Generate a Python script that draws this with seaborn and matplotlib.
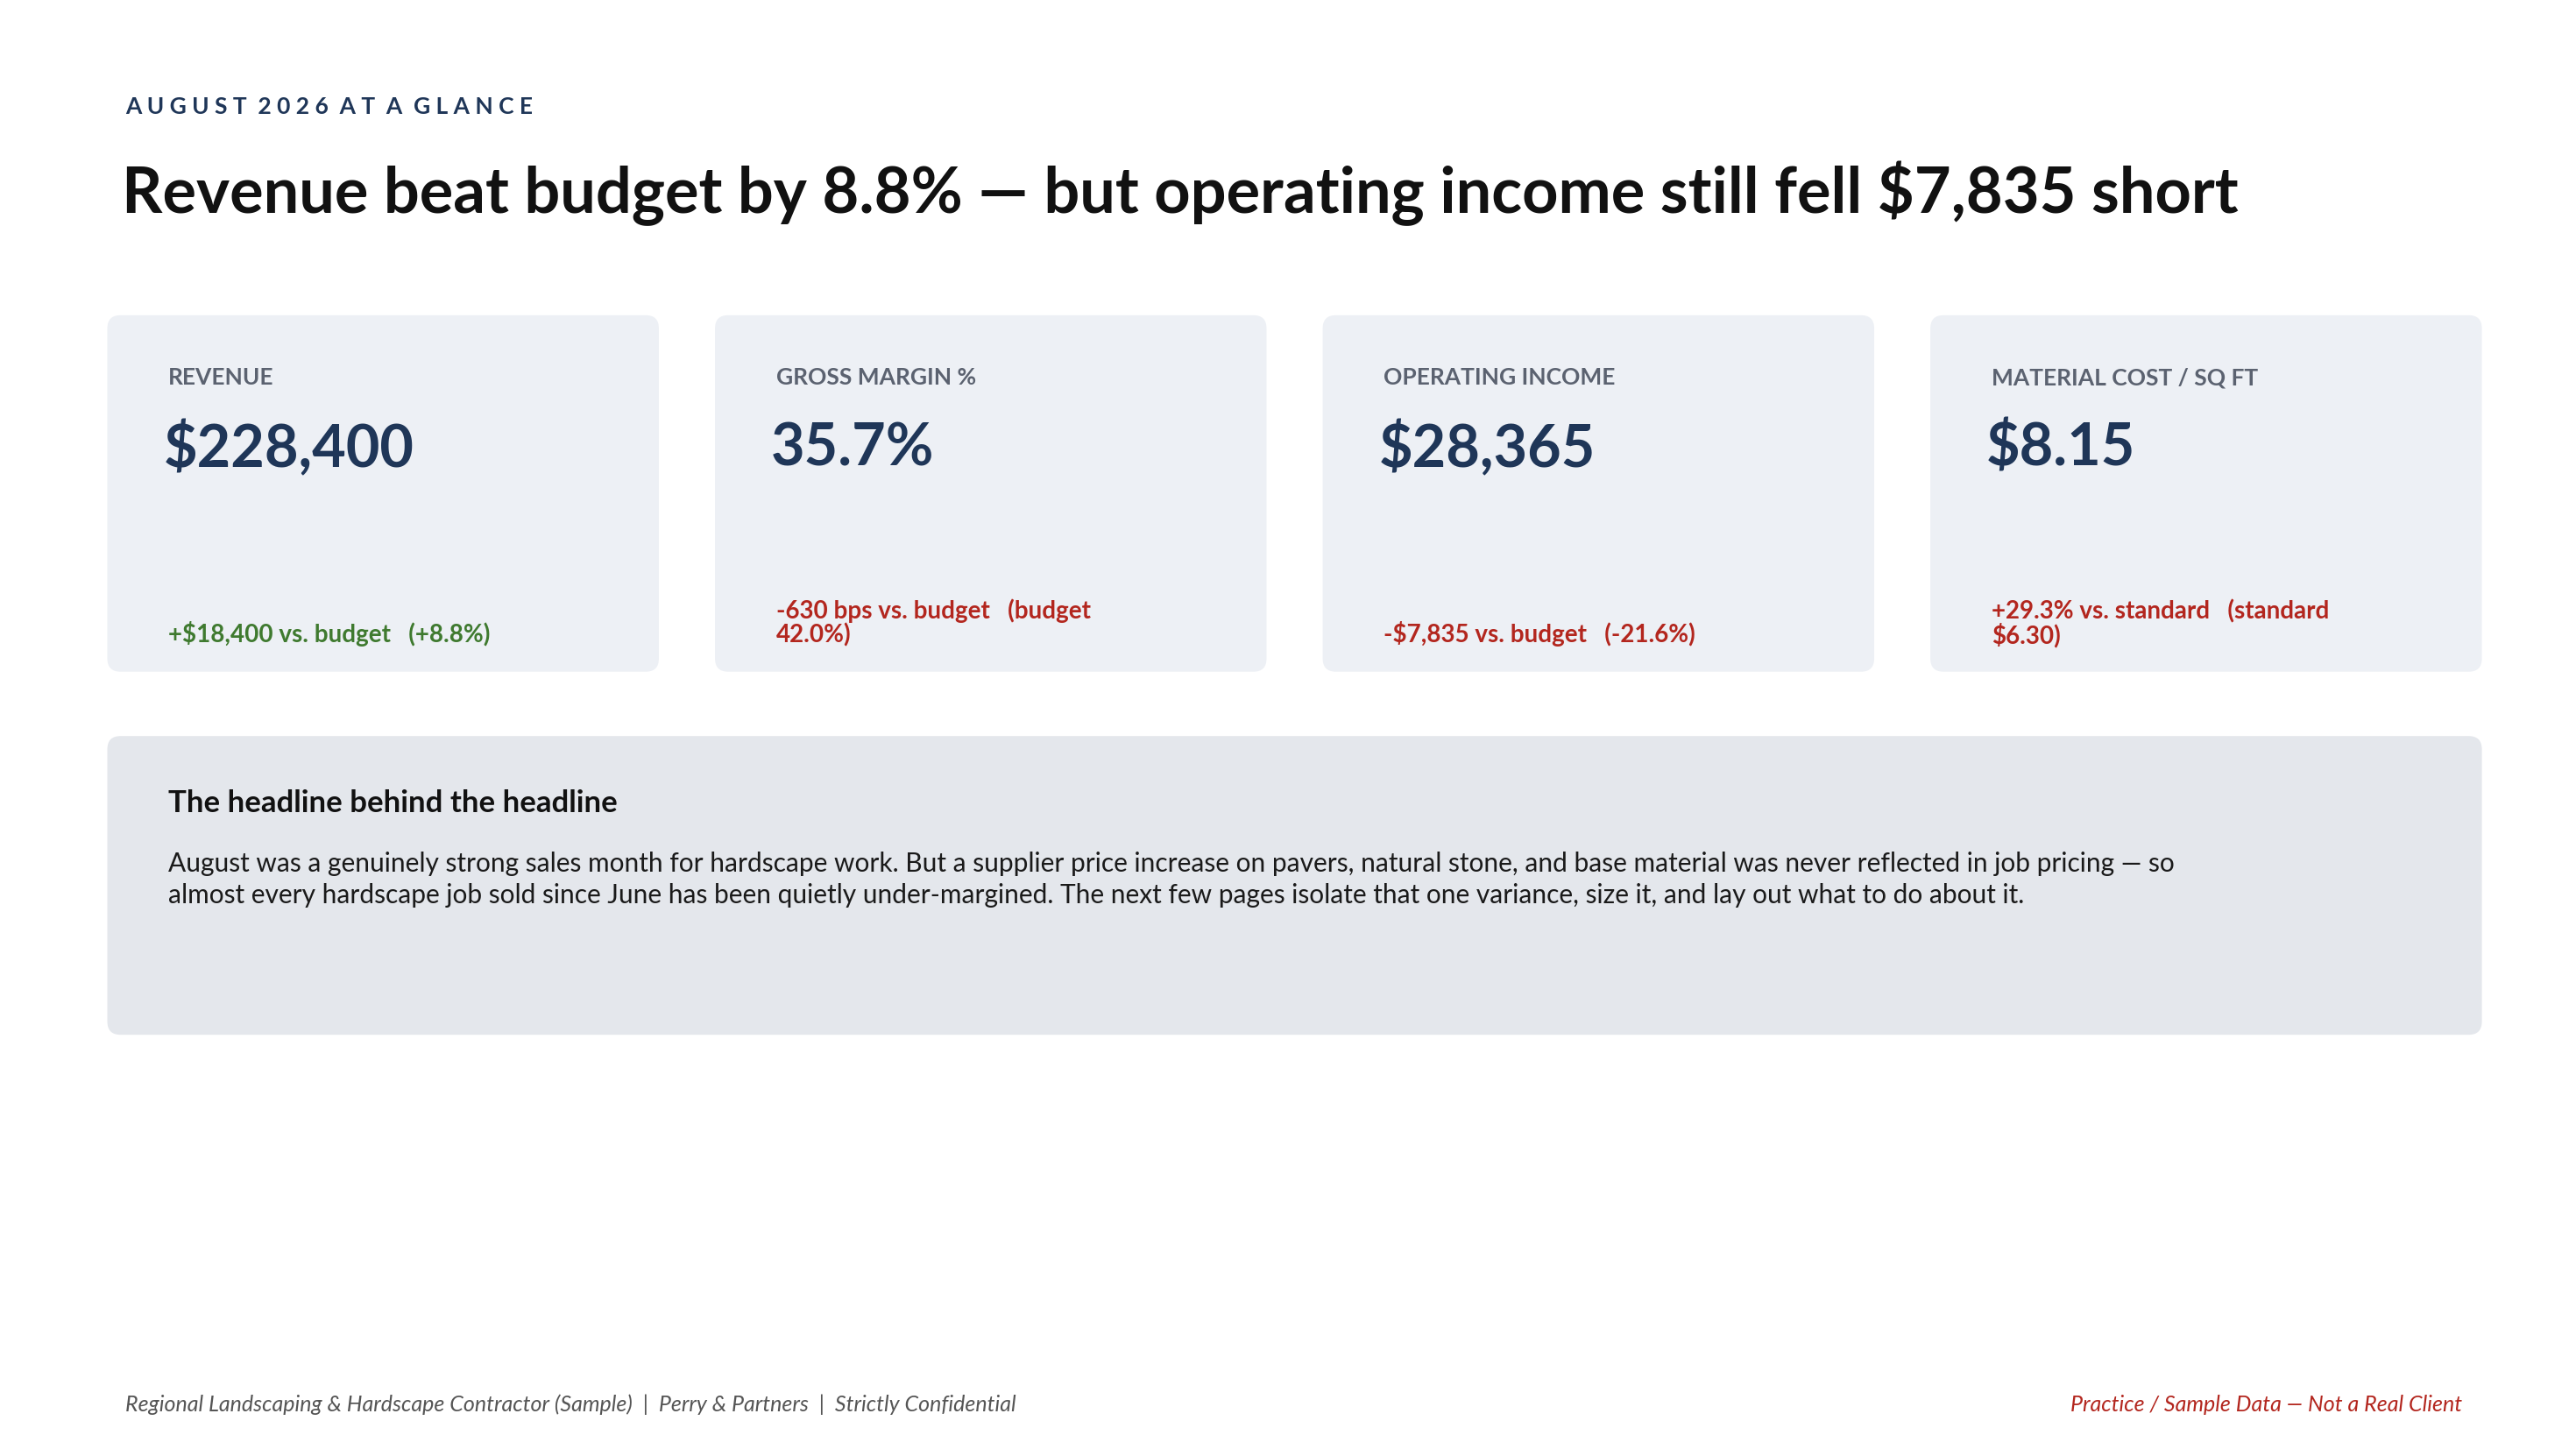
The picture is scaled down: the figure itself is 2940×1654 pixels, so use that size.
import matplotlib
matplotlib.use("Agg")
import matplotlib.pyplot as plt
from matplotlib.patches import FancyBboxPatch
import seaborn as sns

sns.set_theme(style="white")
plt.rcParams['font.family'] = ['Lato', 'DejaVu Sans']

kicker = "AUGUST 2026 AT A GLANCE"
title = "Revenue beat budget by 8.8% \u2014 but operating income still fell $7,835 short"
card_labels = ["REVENUE", "GROSS MARGIN %", "OPERATING INCOME", "MATERIAL COST / SQ FT"]
card_values = ["$228,400", "35.7%", "$28,365", "$8.15"]
card_deltas = ["+$18,400 vs. budget   (+8.8%)",
               "-630 bps vs. budget   (budget\n42.0%)",
               "-$7,835 vs. budget   (-21.6%)",
               "+29.3% vs. standard   (standard\n$6.30)"]
card_good = [True, False, False, False]
note_head = "The headline behind the headline"
note_body = ("August was a genuinely strong sales month for hardscape work. But a supplier price increase on pavers, natural stone, and base material was never reflected in job pricing \u2014 so\n"
             "almost every hardscape job sold since June has been quietly under-margined. The next few pages isolate that one variance, size it, and lay out what to do about it.")
footer_left = "Regional Landscaping & Hardscape Contractor (Sample)  |  Perry & Partners  |  Strictly Confidential"
footer_right = "Practice / Sample Data \u2014 Not a Real Client"

W, H = 1560, 878
fig = plt.figure(figsize=(29.4, 16.54), dpi=100)
fig.patch.set_facecolor("white")
ax = fig.add_axes([0, 0, 1, 1])
ax.set_xlim(0, W); ax.set_ylim(H, 0); ax.axis("off")

NAVY = "#1f3658"
ax.text(76, 65, "  ".join(" ".join(w) for w in kicker.split(" ")).replace("   ", "  "),
        fontsize=19, fontweight="bold", color=NAVY, va="center", ha="left")
ax.text(74, 117, title, fontsize=52, fontweight="bold", color="#111111", va="center", ha="left")

xs = [65, 433, 801, 1169]
for i, x0 in enumerate(xs):
    ax.add_patch(FancyBboxPatch((x0, 191), 334, 216, boxstyle="round,pad=0,rounding_size=8",
                                fc="#edf0f5", ec="none"))
    ax.text(x0 + 37, 229, card_labels[i], fontsize=19, fontweight="bold", color="#5b6270", va="center")
    ax.text(x0 + 34, 272, card_values[i], fontsize=48, fontweight="bold", color=NAVY, va="center")
    col = "#3f7a2f" if card_good[i] else "#b3261e"
    if "\n" in card_deltas[i]:
        ax.text(x0 + 37, 363, card_deltas[i], fontsize=20, fontweight="bold", color=col, va="top", linespacing=1.0)
    else:
        ax.text(x0 + 37, 384, card_deltas[i], fontsize=20, fontweight="bold", color=col, va="center")

ax.add_patch(FancyBboxPatch((65, 446), 1438, 181, boxstyle="round,pad=0,rounding_size=8",
                            fc="#e4e7ec", ec="none"))
ax.text(102, 487, note_head, fontsize=25, fontweight="bold", color="#111111", va="center")
ax.text(102, 516, note_body, fontsize=21.5, color="#1a1a1a", va="top", linespacing=1.35)

ax.text(76, 851, footer_left, fontsize=18, style="italic", color="#555555", va="center")
ax.text(1491, 851, footer_right, fontsize=18, style="italic", color="#b3261e", va="center", ha="right")

fig.savefig("out.png", dpi=100, facecolor="white")
